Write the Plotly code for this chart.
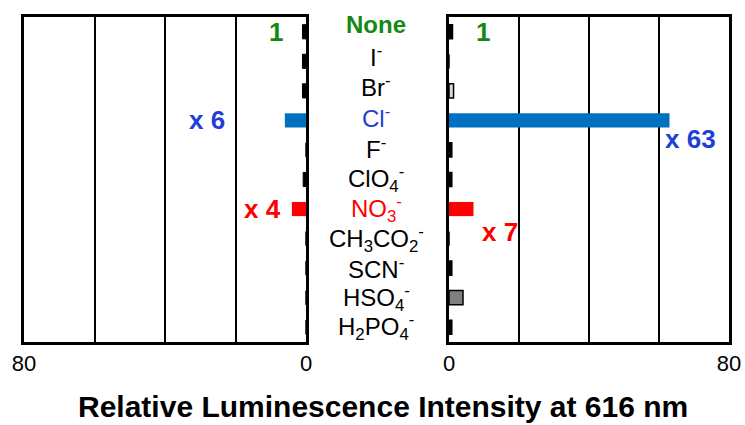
import plotly.graph_objects as go

# Anions screened (top to bottom)
anions = ["None", "I-", "Br-", "Cl-", "F-", "ClO4-", "NO3-", "CH3CO2-", "SCN-", "HSO4-", "H2PO4-"]
anion_labels = ["<b>None</b>", "I<sup>-</sup>", "Br<sup>-</sup>", "Cl<sup>-</sup>", "F<sup>-</sup>",
                "ClO<sub>4</sub><sup>-</sup>", "NO<sub>3</sub><sup>-</sup>",
                "CH<sub>3</sub>CO<sub>2</sub><sup>-</sup>", "SCN<sup>-</sup>",
                "HSO<sub>4</sub><sup>-</sup>", "H<sub>2</sub>PO<sub>4</sub><sup>-</sup>"]
label_colors = ["#138a13", "black", "black", "#1f3fd6", "black", "black", "#ff0000",
                "black", "black", "black", "black"]

# Relative luminescence intensity at 616 nm
left_values = [1, 1, 1, 6, 0, 0.8, 4, 0, 0, 0, 0]
right_values = [1, 0, 1.3, 63, 0.8, 0.8, 7, 0, 0.8, 4, 0.8]

left_colors = ["black", "black", "black", "#0070c0", "black", "black", "#ff0000",
               "black", "black", "black", "black"]
right_colors = ["black", "black", "#d9d9d9", "#0070c0", "black", "black", "#ff0000",
                "black", "black", "#808080", "black"]
left_lines = [1 if c == "black" else 0 for c in left_colors]
right_lines = [0 if c in ("#0070c0", "#ff0000") else 1.5 for c in right_colors]

# Fold-change callouts: (panel, anion, text, color, x position px, y offset px)
callouts = [
    ("x", "None", "<b>1</b>", "#138a13", 276, 0),
    ("x2", "None", "<b>1</b>", "#138a13", 483, 0),
    ("x", "Cl-", "<b>x 6</b>", "#1f3fd6", 207, 0),
    ("x2", "Cl-", "<b>x 63</b>", "#1f3fd6", 690, -19),
    ("x", "NO3-", "<b>x 4</b>", "#ff0000", 262, 0),
    ("x2", "NO3-", "<b>x 7</b>", "#ff0000", 500, -23),
]

W, H = 745, 425
FONT = "Liberation Sans, Arial, sans-serif"

fig = go.Figure()
fig.add_trace(go.Bar(y=anions, x=left_values, orientation="h", xaxis="x", yaxis="y",
                     width=0.48, marker=dict(color=left_colors,
                                             line=dict(color="black", width=left_lines)),
                     showlegend=False))
fig.add_trace(go.Bar(y=anions, x=right_values, orientation="h", xaxis="x2", yaxis="y2",
                     width=0.48, marker=dict(color=right_colors,
                                             line=dict(color="black", width=right_lines)),
                     showlegend=False))

ydom = [1 - 342 / H, 1 - 17 / H]
xcommon = dict(tickvals=[0, 20, 40, 60, 80], ticktext=["0", "", "", "", "80"],
               showgrid=True, gridcolor="black", gridwidth=1.5, zeroline=False,
               showline=True, linecolor="black", linewidth=2.5, mirror=True,
               ticks="", tickfont=dict(family=FONT, size=22, color="black"),
               automargin=False)
ycommon = dict(categoryorder="array", categoryarray=anions, range=[10.5, -0.5],
               showticklabels=False, showgrid=False, zeroline=False, ticks="",
               showline=True, linecolor="black", linewidth=2.5, mirror=True,
               domain=ydom, automargin=False)

fig.update_layout(
    width=W, height=H,
    margin=dict(l=0, r=0, t=0, b=0, autoexpand=False),
    paper_bgcolor="white", plot_bgcolor="white",
    xaxis=dict(domain=[24 / W, 306 / W], range=[80, 0], anchor="y", **xcommon),
    xaxis2=dict(domain=[449 / W, 729 / W], range=[0, 80], anchor="y2", **xcommon),
    yaxis=dict(anchor="x", **ycommon),
    yaxis2=dict(anchor="x2", **ycommon),
)

annotations = []
for i, (lab, col) in enumerate(zip(anion_labels, label_colors)):
    annotations.append(dict(xref="paper", yref="y", x=376 / W, y=anions[i], text=lab,
                            showarrow=False, xanchor="center", yanchor="middle",
                            yshift=max(0.0, 7 - 1.2 * i),
                            font=dict(family=FONT, size=24, color=col)))
for ax, cat, txt, col, px, dy in callouts:
    annotations.append(dict(xref="paper", yref="y" if ax == "x" else "y2", x=px / W, y=cat,
                            text=txt, showarrow=False, xanchor="center", yanchor="middle",
                            yshift=dy, font=dict(family=FONT, size=26, color=col)))
annotations.append(dict(xref="paper", yref="paper", x=383 / W, y=1 - 406 / H,
                        text="<b>Relative Luminescence Intensity at 616 nm</b>",
                        showarrow=False, xanchor="center", yanchor="middle",
                        font=dict(family=FONT, size=30, color="black")))
fig.update_layout(annotations=annotations)

fig.write_html("out.html")
